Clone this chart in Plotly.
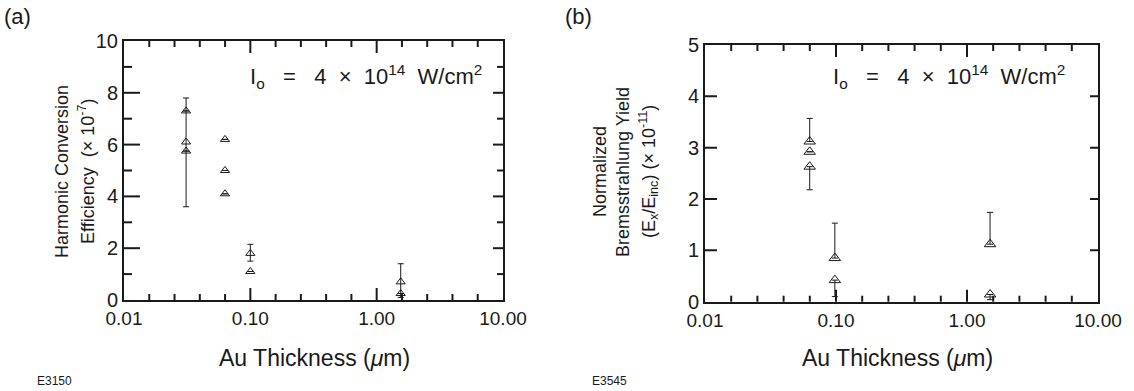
import plotly.graph_objects as go

W, H = 1134, 391

# ---------------- data ----------------
# Panel (a): harmonic conversion efficiency (x 1e-7)
thick_a = [0.031, 0.031, 0.031, 0.063, 0.063, 0.063, 0.10, 0.10, 1.55, 1.55]
eff_a = [7.3, 6.1, 5.75, 6.2, 5.0, 4.1, 1.8, 1.1, 0.7, 0.25]
eff_a_plus = [0, 1.7, 0, 0, 0, 0, 0.35, 0, 0.7, 0]
eff_a_minus = [0, 2.5, 0, 0, 0, 0, 0.3, 0, 0.6, 0]

# Panel (b): normalized bremsstrahlung yield (x 1e-11)
thick_b = [0.063, 0.063, 0.063, 0.098, 0.098, 1.5, 1.5]
yield_b = [3.12, 2.92, 2.63, 0.85, 0.42, 1.12, 0.14]
yield_b_plus = [0.45, 0, 0, 0.68, 0, 0.62, 0]
yield_b_minus = [0, 0, 0.45, 0, 0.32, 0, 0.1]

x_tick_vals = [0.01, 0.1, 1, 10]
x_tick_text = ["0.01", "0.10", "1.00", "10.00"]
x_minor_vals = [10 ** (k + f) for k in (-2, -1, 0) for f in (0.2, 0.4, 0.6, 0.8)]
ya_vals = [0, 2, 4, 6, 8, 10]
ya_minor = [1, 3, 5, 7, 9]
yb_vals = [0, 1, 2, 3, 4, 5]

FONT = "Liberation Sans, Arial, sans-serif"
INK = "#1a1a1a"
NB = "\u00a0"
TW = 2

# plot-area frames (pixels)
A_L, A_R, A_T, A_B = 124, 503, 41, 300
B_L, B_R, B_T, B_B = 705, 1098, 45, 301.7


def px(x):
    return x / W


def py(y):
    return 1 - y / H


fig = go.Figure()

fig.add_trace(go.Scatter(
    x=thick_a, y=eff_a, mode="markers", xaxis="x", yaxis="y",
    marker=dict(symbol="triangle-up-open", size=8, color=INK, line=dict(width=1, color=INK)),
    error_y=dict(type="data", symmetric=False, array=eff_a_plus, arrayminus=eff_a_minus,
                 color=INK, thickness=1, width=3),
    showlegend=False,
))

fig.add_trace(go.Scatter(
    x=thick_b, y=yield_b, mode="markers", xaxis="x2", yaxis="y2",
    marker=dict(symbol="triangle-up-open", size=10, color=INK, line=dict(width=1, color=INK)),
    error_y=dict(type="data", symmetric=False, array=yield_b_plus, arrayminus=yield_b_minus,
                 color=INK, thickness=1, width=3),
    showlegend=False,
))

base_line = dict(showline=True, linecolor=INK, linewidth=2, mirror=True,
                 showgrid=False, zeroline=False, automargin=False, ticks="")

dxa = [px(A_L), px(A_R)]
dya = [py(A_B), py(A_T)]
dxb = [px(B_L), px(B_R)]
dyb = [py(B_B), py(B_T)]

fig.update_layout(
    template="none",
    width=W, height=H,
    margin=dict(l=0, r=0, t=0, b=0, pad=0),
    paper_bgcolor="white", plot_bgcolor="white",
    font=dict(family=FONT, color=INK),
    xaxis=dict(domain=dxa, anchor="y", type="log", range=[-2, 1], tickmode="array",
               tickvals=x_tick_vals, ticktext=x_tick_text,
               tickfont=dict(family=FONT, size=19, color=INK), **base_line),
    yaxis=dict(domain=dya, anchor="x", range=[0, 10], tickmode="array", tickvals=ya_vals,
               tickfont=dict(family=FONT, size=20, color=INK), **base_line),
    xaxis2=dict(domain=dxb, anchor="y2", type="log", range=[-2, 1], tickmode="array",
                tickvals=x_tick_vals, ticktext=x_tick_text,
                tickfont=dict(family=FONT, size=19, color=INK), **base_line),
    yaxis2=dict(domain=dyb, anchor="x2", range=[0, 5], tickmode="array", tickvals=yb_vals,
                tickfont=dict(family=FONT, size=20, color=INK), **base_line),
)

# ---- inward tick marks, placed through the axes' own scales ----
shapes = []


def xticks(xref, yref, vals, ln, plot_h):
    f = ln / plot_h
    for v in vals:
        for y0, y1 in ((0, f), (1 - f, 1)):
            shapes.append(dict(type="line", xref=xref, yref=yref + " domain",
                               x0=v, x1=v, y0=y0, y1=y1,
                               line=dict(color=INK, width=TW)))


def yticks(xref, yref, vals, ln_left, ln_right, plot_w):
    fl, fr = ln_left / plot_w, ln_right / plot_w
    for v in vals:
        for x0, x1 in ((0, fl), (1 - fr, 1)):
            shapes.append(dict(type="line", xref=xref + " domain", yref=yref,
                               x0=x0, x1=x1, y0=v, y1=v,
                               line=dict(color=INK, width=TW)))


# panel (a)
xticks("x", "y", x_tick_vals[1:-1], 12, A_B - A_T)
xticks("x", "y", x_minor_vals, 6, A_B - A_T)
yticks("x", "y", ya_vals[1:-1], 16, 10, A_R - A_L)
yticks("x", "y", ya_minor, 8, 6, A_R - A_L)
# panel (b)
xticks("x2", "y2", x_tick_vals[1:-1], 12, B_B - B_T)
xticks("x2", "y2", x_minor_vals, 6, B_B - B_T)
yticks("x2", "y2", yb_vals[1:-1], 12, 8, B_R - B_L)

fig.update_layout(shapes=shapes)

ann = []


def text(x, y, s, size, angle=0, xanchor="center"):
    ann.append(dict(x=px(x), y=py(y), xref="paper", yref="paper", text=s,
                    showarrow=False, textangle=angle, xanchor=xanchor, yanchor="middle",
                    font=dict(family=FONT, size=size, color=INK)))


# panel labels
text(17, 17, "(a)", 22)
text(578, 17, "(b)", 22)
# footers
text(35, 381, "E3150", 12, xanchor="left")
text(590, 381, "E3545", 12, xanchor="left")
# x titles
text(314, 358, "Au Thickness (<i>μ</i>m)", 23)
text(897, 358, "Au Thickness (<i>μ</i>m)", 23)
# y titles
text(62, 172, "Harmonic Conversion", 18, angle=-90)
text(86, 172, "Efficiency" + NB * 2 + "(×" + NB + "10<sup>-7</sup>)", 18, angle=-90)
text(600, 172, "Normalized", 18, angle=-90)
text(623, 172, "Bremsstrahlung Yield", 18, angle=-90)
text(648, 172, "(E<sub>x</sub>/E<sub>inc</sub>)" + NB + "(×" + NB + "10<sup>-11</sup>)", 18, angle=-90)
# intensity labels
lab = ("I<sub>o</sub>" + NB * 3 + "=" + NB * 3 + "4" + NB * 2 + "×" + NB * 2 + "10<sup>14</sup>"
       + NB * 2 + "W/cm<sup>2</sup>")
text(248, 77, lab, 22, xanchor="left")
text(831, 77, lab, 22, xanchor="left")

fig.update_layout(annotations=ann)

fig.write_html("out.html")
